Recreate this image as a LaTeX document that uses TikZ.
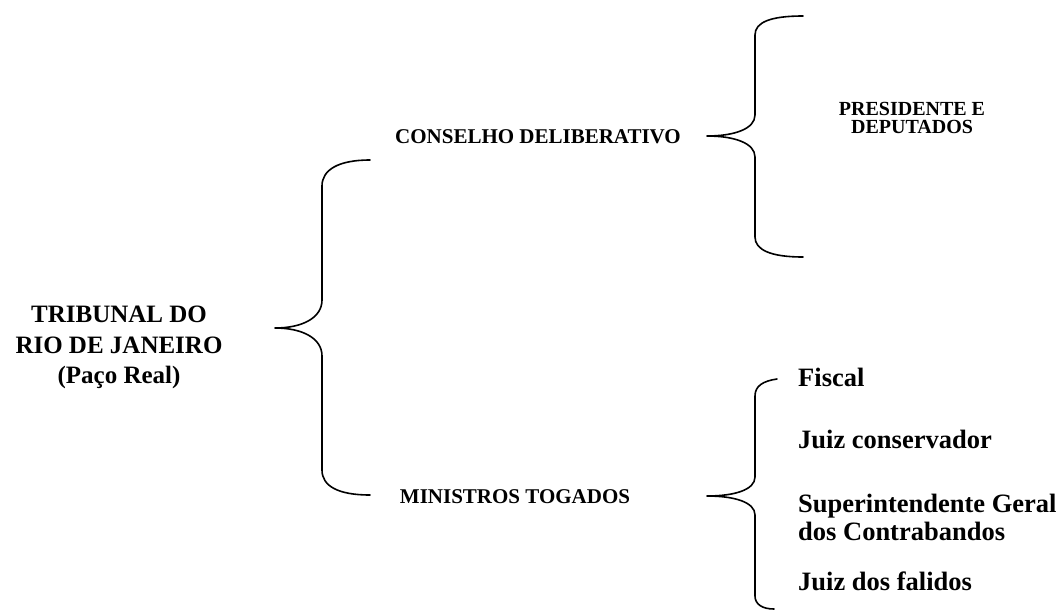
\documentclass[tikz,border=0pt]{standalone}
\usepackage{fontspec}
\setmainfont{Liberation Serif}
\begin{document}
\begin{tikzpicture}[x=1pt,y=-1pt,
  lbl/.style={inner sep=0pt,anchor=base,font=\bfseries\fontsize{#1}{#1}\selectfont},
  lstitem/.style={inner sep=0pt,anchor=base west,font=\bfseries\fontsize{26.5}{28}\selectfont},
  brace/.style={line width=1.6pt,line join=round,line cap=round}]
\useasboundingbox (0,0) rectangle (1061,611);
% left title
\node[lbl=25] (t1) at (119,322) {TRIBUNAL DO};
\node[lbl=25] (t2) at (119,353) {RIO DE JANEIRO};
\node[lbl=25] (t3) at (119,383) {(Paço Real)};
% middle labels
\node[lbl=21] (cons) at (538,143) {CONSELHO DELIBERATIVO};
\node[lbl=21] (min) at (515,503) {MINISTROS TOGADOS};
% top right
\node[lbl=20] (p1) at (912,115) {PRESIDENTE E};
\node[lbl=20] (p2) at (912,133) {DEPUTADOS};
% bottom right list
\node[lstitem] (f1) at (798,386) {Fiscal};
\node[lstitem] (f2) at (798,448) {Juiz conservador};
\node[lstitem] (f3) at (798,512) {Superintendente Geral};
\node[lstitem] (f4) at (798,540) {dos Contrabandos};
\node[lstitem] (f5) at (798,590) {Juiz dos falidos};
% braces
\coordinate (lb) at (275,328);
\draw[brace] (370,160) .. controls (338,160) and (322,170) .. (322,186) -- (322,300)
  .. controls (322,318) and (302,328) .. (lb)
  .. controls (302,328) and (322,338) .. (322,356) -- (322,470)
  .. controls (322,486) and (338,495) .. (370,495);
\coordinate (tb) at (707,136);
\draw[brace] (803,16) .. controls (771,16) and (755,22) .. (755,35) -- (755,115)
  .. controls (755,129) and (734,136) .. (tb)
  .. controls (734,136) and (755,143) .. (755,157) -- (755,237)
  .. controls (755,250) and (771,257) .. (803,257);
\coordinate (bb) at (707,496);
\draw[brace] (777,379) .. controls (763,381) and (755,386) .. (755,396) -- (755,477)
  .. controls (755,490) and (734,496) .. (bb)
  .. controls (734,496) and (755,502) .. (755,515) -- (755,596)
  .. controls (755,604) and (762,609) .. (774,609);
\end{tikzpicture}
\end{document}
